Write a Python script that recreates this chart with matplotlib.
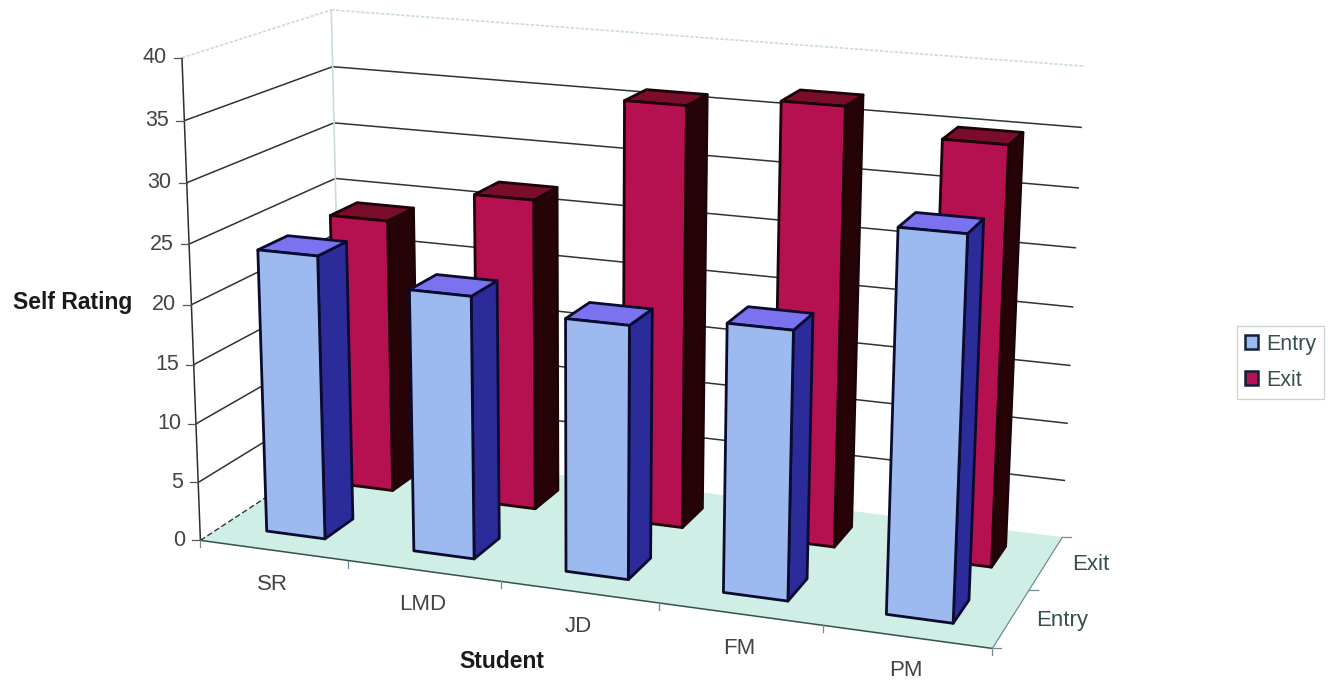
import numpy as np
import matplotlib
matplotlib.use("Agg")
import matplotlib.pyplot as plt
from matplotlib.patches import Polygon, Patch

plt.rcParams['font.family'] = ['Liberation Sans', 'DejaVu Sans']

students = ["SR", "LMD", "JD", "FM", "PM"]
series_names = ["Entry", "Exit"]
entry_scores = [24, 22, 21, 22, 30.8]
exit_scores = [24, 27, 36, 37, 35]
z_ticks = [0, 5, 10, 15, 20, 25, 30, 35, 40]
z_title = "Self Rating"
x_title = "Student"

W, H = 1341, 680
fig = plt.figure(figsize=(W / 100, H / 100), dpi=100, facecolor="white")
ax = fig.add_axes([0, 0, 1, 1])
ax.set_xlim(0, W)
ax.set_ylim(H, 0)
ax.axis("off")

# Camera matrix fitted to known points on the plot box
calibration = [
    ((0, 0, 0), (201, 541)), ((5, 0, 0), (993, 649)), ((5, 2, 0), (1064, 537)),
    ((0, 0, 40), (180, 58)), ((5, 2, 40), (1085, 67)), ((0, 2, 40), (330, 8)),
    ((0, 0, 35), (185, 120)), ((0, 0, 30), (187, 183)), ((0, 0, 25), (190, 245)),
    ((0, 0, 20), (193, 305)), ((0, 0, 5), (198, 482)),
    ((0, 2, 35), (333, 67)), ((0, 2, 30), (335, 123)), ((0, 2, 25), (336, 180)),
    ((5, 2, 35), (1083, 127)), ((5, 2, 30), (1079, 187)), ((5, 2, 25), (1075, 248)),
    ((5, 2, 20), (1072, 307)), ((5, 2, 15), (1070, 366)), ((5, 2, 5), (1065, 481)),
    ((1, 0, 0), (348, 562)), ((2, 0, 0), (502, 582)),
    ((0.3, 0.3, 0), (265, 529)), ((0.7, 0.3, 0), (323, 538)),
    ((4.3, 0.3, 0), (886, 613)), ((4.7, 0.3, 0), (953, 623)),
]


def fit_camera(points):
    rows = []
    for (X, Y, Z), (u, v) in points:
        rows.append([X, Y, Z, 1, 0, 0, 0, 0, -u * X, -u * Y, -u * Z, -u])
        rows.append([0, 0, 0, 0, X, Y, Z, 1, -v * X, -v * Y, -v * Z, -v])
    return np.linalg.svd(np.array(rows, float))[2][-1].reshape(3, 4)


CAM = fit_camera(calibration)


def project(x, y, z):
    p = CAM @ np.array([x, y, z, 1.0])
    return p[0] / p[2], p[1] / p[2]


def face(corners, fc, ec="none", lw=0, z=1, **kw):
    ax.add_patch(Polygon([project(*c) for c in corners], closed=True, fc=fc,
                         ec=ec, lw=lw, zorder=z, joinstyle="round", **kw))


def seg(a, b, **kw):
    pa, pb = project(*a), project(*b)
    ax.plot([pa[0], pb[0]], [pa[1], pb[1]], solid_capstyle="butt", **kw)


GRID = "#2e3430"
FADE = "#c9dcd6"

# Floor
face([(0, 0, 0), (5, 0, 0), (5, 2, 0), (0, 2, 0)], "#cfeee6", z=1)
seg((0, 0, 0), (5, 0, 0), color="#33514d", lw=1.1, zorder=2)
seg((5, 0, 0), (5, 2, 0), color="#6f8f8a", lw=0.9, zorder=2)
seg((0, 0, 0), (0, 2, 0), color="#2a3a38", lw=1.0, ls=(0, (4, 2)), zorder=2)

# Walls: gridlines, faint top edges, axis line
for v in z_ticks[1:-1]:
    seg((0, 0, v), (0, 2, v), color=GRID, lw=1.1, zorder=2)
    seg((0, 2, v), (5, 2, v), color=GRID, lw=1.1, zorder=2)
seg((0, 0, 40), (0, 2, 40), color=FADE, lw=1.2, ls=(0, (2, 1)), zorder=2)
seg((0, 2, 40), (5, 2, 40), color=FADE, lw=1.2, ls=(0, (2, 1)), zorder=2)
seg((0, 2, 0), (0, 2, 40), color=FADE, lw=1.2, zorder=2)
seg((0, 0, 0), (0, 0, 40), color="#2a2f2e", lw=1.1, zorder=2)

# Value axis ticks and labels
for v in z_ticks:
    px, py = project(0, 0, v)
    ax.plot([px - 8, px], [py, py], color="#555", lw=0.9, zorder=2)
    ax.text(px - 15, py, str(v), ha="right", va="center", fontsize=15.5, color="#444444")

# Category axis ticks and labels
for k in range(6):
    px, py = project(k, 0, 0)
    ax.plot([px, px], [py, py + 7], color="#789", lw=0.9, zorder=2)
for k, name in enumerate(students):
    px, py = project(k + 0.5, 0, 0)
    ax.text(px - 1, py + 34, name, ha="center", va="center", fontsize=16, color="#444444")

# Series axis ticks and labels
for k in range(3):
    px, py = project(5, k, 0)
    ax.plot([px, px + 9], [py, py], color="#789", lw=0.9, zorder=2)
for k, (name, shift) in enumerate(zip(series_names, (51, 44))):
    px, py = project(5, k + 0.5, 0)
    ax.text(px + shift, py + 2, name, ha="center", va="center", fontsize=16, color="#35504e")

ax.text(73, 303, z_title, ha="center", va="center", fontsize=16.5, fontweight="bold", color="#1a1a1a")
ax.text(502, 661, x_title, ha="center", va="center", fontsize=16.5, fontweight="bold", color="#1a1a1a")

STYLES = {
    "Entry": dict(front="#9dbaf0", side="#2b2b99", top="#7a72ee", edge="#0b0b2e"),
    "Exit": dict(front="#b5104f", side="#250306", top="#7a0c2c", edge="#1c0308"),
}


def bar(cat, row, value, st, z):
    x0, x1 = cat + 0.3, cat + 0.7
    y0, y1 = row + 0.3, row + 0.7
    kw = dict(ec=st["edge"], lw=2.0, z=z)
    face([(x1, y0, 0), (x1, y1, 0), (x1, y1, value), (x1, y0, value)], st["side"], **kw)
    face([(x0, y0, value), (x1, y0, value), (x1, y1, value), (x0, y1, value)], st["top"], **kw)
    face([(x0, y0, 0), (x1, y0, 0), (x1, y0, value), (x0, y0, value)], st["front"], **kw)


# Back row first so the front row overlaps it
for i, v in enumerate(exit_scores):
    bar(i, 1, v, STYLES["Exit"], 5 + i)
for i, v in enumerate(entry_scores):
    bar(i, 0, v, STYLES["Entry"], 15 + i)

handles = [Patch(fc=STYLES[n]["front"], ec="#10203a", lw=1.8, label=n) for n in series_names]
leg = ax.legend(handles=handles, loc="upper left", bbox_to_anchor=(1237 / W, 1 - 326 / H),
                bbox_transform=fig.transFigure, frameon=True, fancybox=False,
                edgecolor="#c8d2d0", framealpha=1, fontsize=15.5, handlelength=0.62,
                handleheight=0.62, handletextpad=0.4, labelspacing=0.72,
                borderpad=0.35, borderaxespad=0)
leg.get_frame().set_linewidth(0.9)
for t in leg.get_texts():
    t.set_color("#35504e")

fig.savefig("out.png", dpi=100)
